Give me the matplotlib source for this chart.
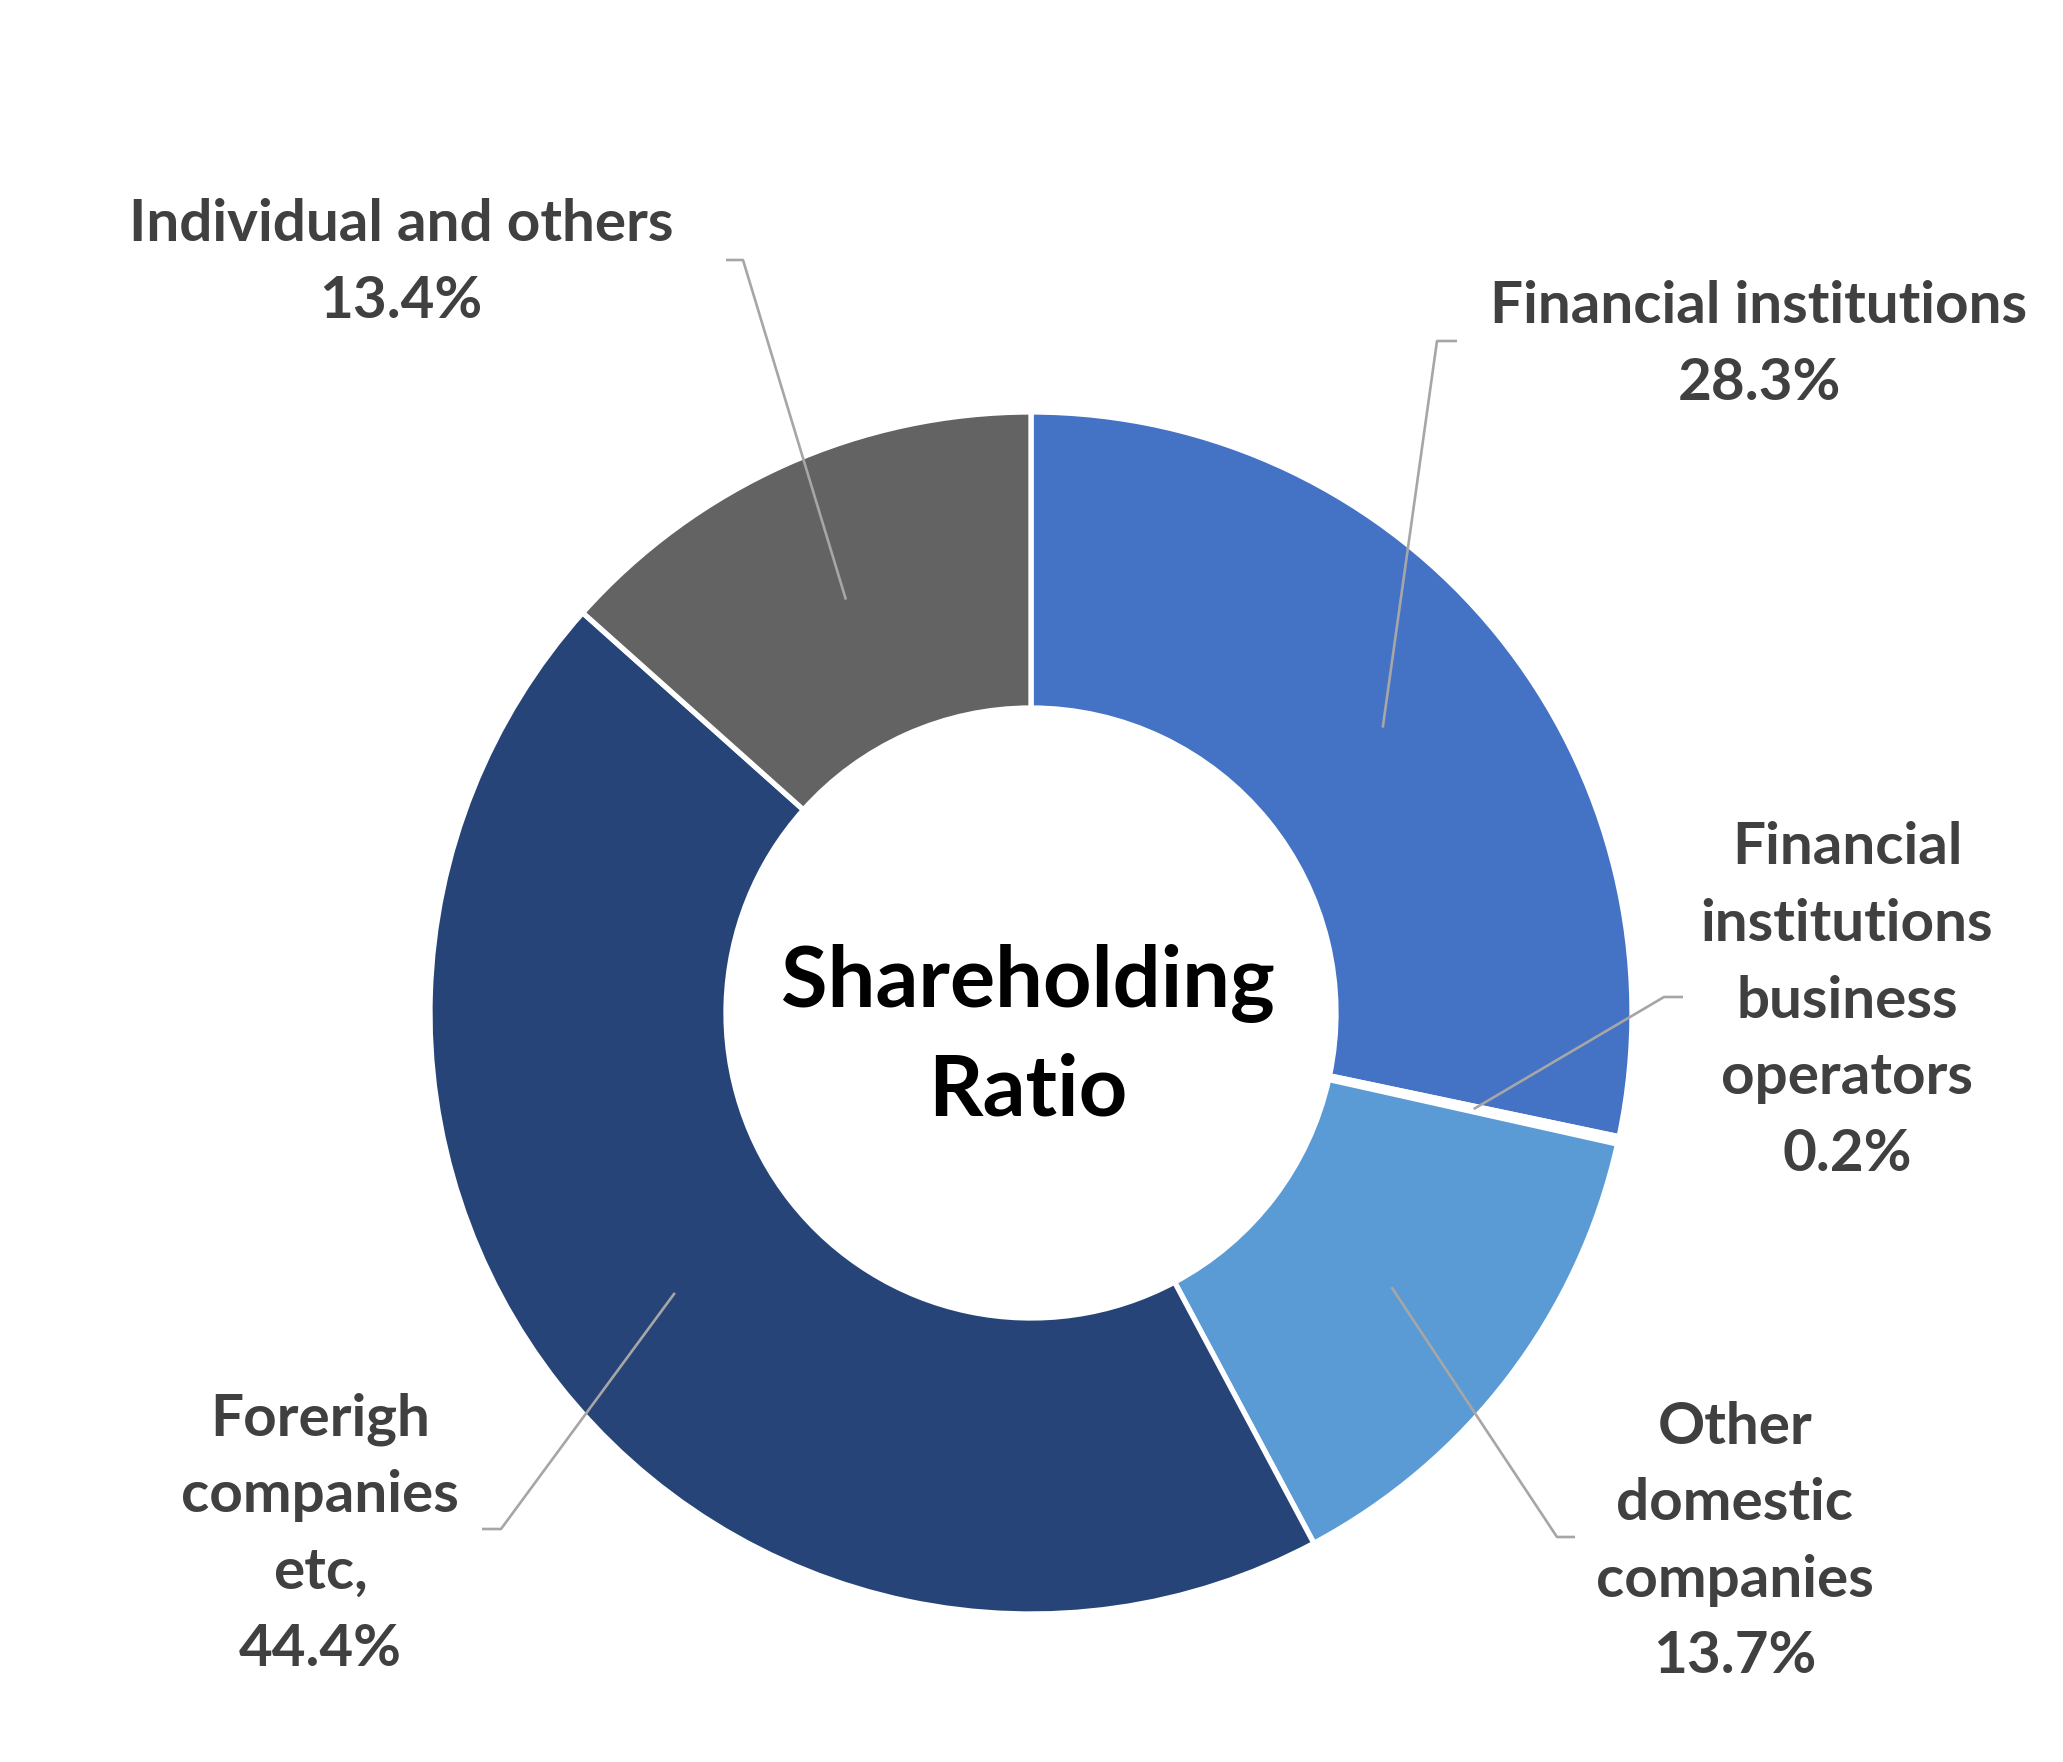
import matplotlib
matplotlib.use("Agg")
import matplotlib.pyplot as plt
import numpy as np

# ---- data ----
categories = ["Financial institutions", "Financial institutions business operators",
              "Other domestic companies", "Foreign companies etc", "Individual and others"]
values = [28.3, 0.2, 13.7, 44.4, 13.4]
label_names = ["Financial institutions", "Financial\ninstitutions\nbusiness\noperators",
               "Other\ndomestic\ncompanies", "Forerigh\ncompanies\netc,", "Individual and others"]
center_title = "Shareholding\nRatio"

colors = ["#4472C4", "#FFFFFF", "#5B9BD5", "#264478", "#636363"]

W, H = 2063, 1762
DPI = 100
fig = plt.figure(figsize=(W / DPI, H / DPI), dpi=DPI)
ax = fig.add_axes([0, 0, 1, 1])

def py(y):  # pixel-from-top -> data y
    return H - y

cx, cy = 1031, py(1013)
R = 601
hole = 305

wedges, _ = ax.pie(values, colors=colors, startangle=90, counterclock=False,
                   radius=R, center=(cx, cy),
                   wedgeprops=dict(width=R - hole, edgecolor="white", linewidth=3.8))
ax.set_xlim(0, W)
ax.set_ylim(0, H)
ax.set_aspect("equal")
ax.axis("off")

# label layout: text center (px), elbow point (px), end of horizontal tick (px)
label_pos = [(1759, 345), (1847, 1001), (1735, 1542), (320, 1534), (401, 263)]
elbows = [((1437, 341), (1457, 341)),
          ((1664, 997), (1683, 997)),
          ((1557, 1537), (1575, 1537)),
          ((501, 1529), (482, 1529)),
          ((743, 260), (726, 260))]

font = dict(family=["Lato", "DejaVu Sans"], fontweight="bold")
mid_r = (R + hole) / 2
for w, name, v, (tx, ty), (e1, e2) in zip(wedges, label_names, values, label_pos, elbows):
    theta = np.deg2rad((w.theta1 + w.theta2) / 2)
    sx = cx + mid_r * np.cos(theta)
    sy = cy + mid_r * np.sin(theta)
    ax.plot([sx, e1[0], e2[0]], [sy, py(e1[1]), py(e2[1])], color="#A6A6A6",
            linewidth=1.9, solid_capstyle="butt", zorder=3)
    ax.text(tx, py(ty), f"{name}\n{v:.1f}%", ha="center", va="center",
            multialignment="center", fontsize=42, color="#404040",
            linespacing=1.55, **font)

ax.text(1028, py(1036), center_title, ha="center", va="center",
        multialignment="center", fontsize=61, color="#000000",
        linespacing=1.48, **font)

fig.savefig("out.png", dpi=DPI, facecolor="white")
